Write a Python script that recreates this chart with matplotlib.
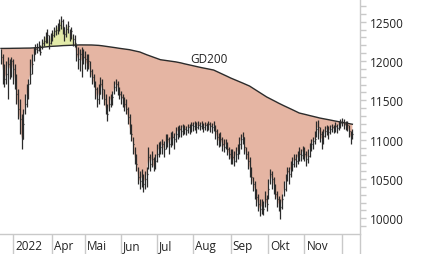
import numpy as np
import pandas as pd
import matplotlib
matplotlib.use("Agg")
from matplotlib import pyplot as plt
import matplotlib.transforms as mtransforms

plt.rcParams['font.family'] = ['Open Sans', 'DejaVu Sans']

# daily closes, Feb 18 - Dec 9 2022
close = [
    12051, 11899, 11771, 11835, 11962, 11899, 12000, 11899, 11771, 11581,
    11390, 11263, 11008, 11199, 11453, 11581, 11708, 11835, 11962, 12089,
    12150, 12140, 12170, 12120, 12230, 12260, 12300, 12331, 12230, 12300,
    12330, 12380, 12400, 12430, 12458, 12509, 12433, 12344, 12407, 12445,
    12344, 12382, 12280, 12229, 12089, 12026, 12089, 12000, 12051, 12026,
    11962, 12000, 11873, 11797, 11733, 11644, 11517, 11581, 11708, 11644,
    11517, 11415, 11326, 11453, 11517, 11542, 11670, 11708, 11670, 11581,
    11542, 11517, 11453, 11390, 11288, 11161, 11072, 10945, 10779, 10690,
    10525, 10474, 10525, 10436, 10500, 10563, 10779, 10690, 10754, 10652,
    10728, 10817, 10881, 10906, 10945, 10881, 10983, 11008, 10945, 11008,
    11034, 11008, 11072, 11110, 11135, 11110, 11161, 11135, 11123, 11161,
    11148, 11186, 11174, 11199, 11161, 11186, 11174, 11199, 11161, 11186,
    11174, 11199, 11174, 11161, 11186, 11110, 11034, 10983, 11008, 10945,
    10906, 10945, 10881, 10817, 10754, 10779, 10728, 10817, 10856, 10945,
    11008, 11034, 10906, 10817, 10728, 10652, 10525, 10436, 10372, 10270,
    10181, 10118, 10156, 10118, 10245, 10181, 10372, 10563, 10500, 10436,
    10309, 10245, 10181, 10143, 10245, 10372, 10474, 10601, 10563, 10627,
    10690, 10754, 10728, 10779, 10817, 10805, 10856, 10817, 10754, 10792,
    10881, 10945, 10983, 11008, 11135, 11161, 11072, 11008, 11046, 11110,
    11135, 11097, 11135, 11161, 11135, 11174, 11148, 11186, 11212, 11224,
    11199, 11174, 11186, 11110, 11034, 11072,
]
high = [
    12153, 12089, 11962, 12000, 12051, 12026, 12051, 12026, 11962, 11835,
    11644, 11517, 11326, 11390, 11581, 11708, 11771, 12026, 12089, 12178,
    12217, 12229, 12255, 12204, 12280, 12320, 12369, 12407, 12331, 12360,
    12400, 12433, 12458, 12484, 12535, 12573, 12535, 12433, 12471, 12509,
    12407, 12433, 12344, 12331, 12217, 12178, 12153, 12178, 12153, 12127,
    12089, 12089, 12000, 11899, 11835, 11746, 11670, 11708, 11797, 11771,
    11644, 11581, 11453, 11555, 11581, 11619, 11746, 11771, 11746, 11670,
    11619, 11581, 11542, 11517, 11415, 11326, 11199, 11034, 10906, 10817,
    10652, 10601, 10627, 10563, 10601, 10652, 10906, 10817, 10856, 10779,
    10817, 10945, 10970, 10983, 11008, 10983, 11072, 11072, 11034, 11097,
    11110, 11085, 11161, 11174, 11186, 11186, 11199, 11186, 11174, 11199,
    11199, 11224, 11224, 11237, 11224, 11237, 11224, 11237, 11212, 11224,
    11212, 11237, 11224, 11212, 11237, 11186, 11135, 11085, 11097, 11034,
    11008, 11008, 10970, 10906, 10881, 10881, 10856, 10906, 10945, 11034,
    11072, 11097, 11034, 10906, 10856, 10779, 10652, 10525, 10474, 10372,
    10309, 10245, 10245, 10219, 10347, 10296, 10500, 10627, 10601, 10525,
    10436, 10347, 10283, 10245, 10309, 10474, 10563, 10652, 10652, 10728,
    10779, 10817, 10817, 10856, 10906, 10881, 10919, 10906, 10856, 10881,
    10957, 11008, 11034, 11110, 11237, 11250, 11161, 11110, 11135, 11174,
    11186, 11174, 11186, 11199, 11186, 11224, 11199, 11237, 11263, 11275,
    11263, 11237, 11237, 11186, 11110, 11135,
]
low = [
    11962, 11708, 11670, 11708, 11517, 11771, 11797, 11708, 11644, 11453,
    11263, 11072, 10881, 11008, 11326, 11415, 11517, 11708, 11835, 12000,
    12089, 12102, 12127, 12077, 12150, 12190, 12230, 12229, 12153, 12220,
    12260, 12300, 12330, 12350, 12382, 12407, 12344, 12255, 12305, 12356,
    12255, 12280, 12191, 12178, 12000, 11899, 11873, 11797, 11962, 11899,
    11873, 11899, 11797, 11708, 11670, 11517, 11415, 11453, 11581, 11517,
    11441, 11326, 11237, 11364, 11415, 11441, 11581, 11619, 11568, 11517,
    11453, 11415, 11364, 11326, 11199, 11072, 10983, 10817, 10690, 10601,
    10436, 10372, 10398, 10334, 10372, 10398, 10627, 10601, 10652, 10601,
    10627, 10715, 10779, 10817, 10817, 10779, 10881, 10906, 10817, 10906,
    10932, 10881, 10970, 11008, 11034, 11034, 11059, 11072, 11059, 11085,
    11072, 11097, 11110, 11123, 11085, 11135, 11123, 11135, 11097, 11123,
    11110, 11123, 11097, 11085, 11110, 11008, 10932, 10906, 10919, 10856,
    10843, 10881, 10805, 10754, 10690, 10690, 10665, 10715, 10754, 10817,
    10881, 10945, 10817, 10754, 10627, 10525, 10436, 10347, 10245, 10156,
    10092, 10029, 10054, 10041, 10143, 10092, 10245, 10436, 10372, 10309,
    10245, 10143, 10092, 9990, 10118, 10283, 10347, 10474, 10436, 10525,
    10601, 10652, 10652, 10690, 10728, 10728, 10754, 10728, 10665, 10703,
    10779, 10856, 10881, 10945, 11034, 11008, 10970, 10881, 10945, 11034,
    11059, 11008, 11072, 11097, 11085, 11097, 11085, 11123, 11148, 11174,
    11135, 11123, 11110, 11034, 10945, 11008,
]
# 200-day average (GD200)
gd200 = [
    12160, 12160, 12160, 12161, 12161, 12161, 12162, 12162, 12162, 12163,
    12163, 12163, 12164, 12164, 12164, 12165, 12165, 12165, 12166, 12166,
    12167, 12169, 12171, 12173, 12176, 12178, 12180, 12182, 12185,
    12186, 12187, 12189, 12190, 12191, 12193, 12194, 12196, 12197, 12198,
    12199, 12200, 12201, 12203, 12204,
    12204, 12205, 12205, 12205, 12206, 12206, 12206, 12206, 12206,
    12204, 12203, 12202, 12200, 12199, 12197,
    12194, 12191, 12188, 12185, 12181, 12178,
    12175, 12172, 12169, 12165, 12162, 12159,
    12156, 12153, 12150, 12147, 12144,
    12139, 12134, 12129, 12125, 12120, 12115,
    12106, 12097, 12088, 12080, 12072, 12064,
    12056, 12048, 12040, 12032, 12025, 12017,
    12014, 12011, 12008, 12006, 12003, 12000,
    11996, 11992, 11989, 11985, 11981,
    11976, 11970, 11965, 11960, 11955, 11949,
    11944, 11939, 11934, 11930, 11925, 11920,
    11916, 11912, 11907, 11903, 11899, 11894, 11890, 11886,
    11876, 11866, 11855, 11845, 11835, 11825, 11815, 11805, 11794, 11784,
    11775, 11766, 11757, 11748, 11738, 11729, 11720, 11710, 11701, 11692, 11682,
    11668, 11654, 11640, 11625, 11611, 11597, 11583, 11569, 11555,
    11543, 11532, 11520, 11509, 11498, 11487, 11475, 11464, 11453,
    11443, 11432, 11422, 11412, 11401, 11391, 11381, 11370, 11360, 11350, 11339,
    11334, 11328, 11323, 11318, 11312, 11307, 11302, 11296, 11291, 11286, 11280, 11275,
    11271, 11267, 11262, 11258, 11254, 11250, 11245, 11241, 11237, 11233, 11228, 11224,
    11220, 11216, 11212, 11208, 11204, 11200, 11196,
]
month_labels = ["2022", "Apr", "Mai", "Jun", "Jul", "Aug", "Sep", "Okt", "Nov"]

holidays = ["2022-04-15", "2022-04-18", "2022-05-26", "2022-06-06", "2022-08-01"]
days = pd.bdate_range("2022-02-18", "2022-12-09", freq="C", holidays=holidays)
x = np.arange(len(days))
close = np.array(close)
gd200 = np.array(gd200)

# first trading day of each month from March on
months = pd.Series(days.to_period("M"))
starts = [i for i in range(1, len(days)) if months[i] != months[i - 1]]

salmon = "#e5b5a3"
yellow = "#e3eba9"
grid = "#c9c9c9"
dark = "#2b2b2b"

fig = plt.figure(figsize=(4.26, 2.55), dpi=100)
ax = fig.add_axes([0, 20 / 255, 360 / 426, 235 / 255])

ax.fill_between(x, close, gd200, where=close <= gd200, interpolate=True,
                color=salmon, lw=0)
ax.fill_between(x, close, gd200, where=close >= gd200, interpolate=True,
                color=yellow, lw=0)
ax.plot(x, gd200, color=dark, lw=1.0)
ax.vlines(x, low, high, color=dark, lw=0.9)
ax.hlines(close, x, x + 0.55, color=dark, lw=0.9)

ax.text(110.5, 12030, "GD200", fontsize=8.5, color="#222222", va="center", ha="left")

ax.set_xlim(-0.58, 209.45)
ax.set_ylim(9800, 12789)

for s in ["top", "left"]:
    ax.spines[s].set_visible(False)
for s in ["right", "bottom"]:
    ax.spines[s].set_color(grid)
    ax.spines[s].set_linewidth(1.0)

ax.yaxis.tick_right()
ax.set_yticks(np.arange(10000, 12501, 500))
ax.set_yticks(np.arange(9900, 12701, 100), minor=True)
ax.tick_params(axis="y", which="both", direction="out", length=4.3, width=1.0,
               color=grid, labelsize=8.5, labelcolor="#222222", pad=2.5)

ax.set_xticks(starts + [209.45])
ax.set_xticklabels([])
ax.tick_params(axis="x", which="major", direction="out", length=14.5, width=1.0,
               color=grid)

trans = mtransforms.offset_copy(ax.get_xaxis_transform(), fig=fig, x=2, y=-11.5, units="dots")
for pos, lab in zip(starts, month_labels):
    ax.text(pos, 0, lab, transform=trans, fontsize=8.5, color="#222222",
            ha="left", va="center")

fig.savefig("out.png", dpi=100)
